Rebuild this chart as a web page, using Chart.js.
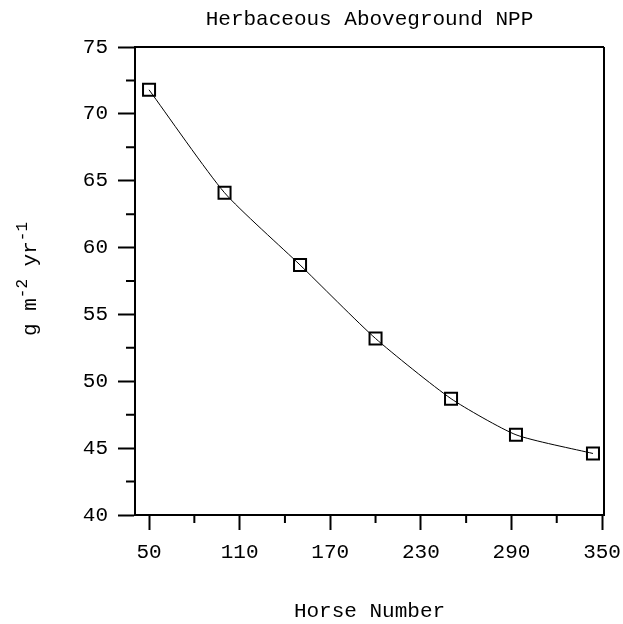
<!DOCTYPE html>
<html>
<head>
<meta charset="utf-8">
<script src="https://cdn.jsdelivr.net/npm/chart.js@4.4.0/dist/chart.umd.min.js"></script>
<style>
  body { margin: 0; background: #fff; }
  canvas { display: block; }
</style>
</head>
<body>
<canvas id="nppChart" width="623" height="624"></canvas>
<script>
// data
const horseNumber = [50, 100, 150, 200, 250, 293, 344];
const npp = [71.8, 64.1, 58.7, 53.2, 48.7, 46.0, 44.6];
const xTicks = [50, 110, 170, 230, 290, 350];
const xMinor = [80, 140, 200, 260, 320];
const yTicks = [40, 45, 50, 55, 60, 65, 70, 75];
const yMinor = [42.5, 47.5, 52.5, 57.5, 62.5, 67.5, 72.5];
const chartTitle = 'Herbaceous Aboveground NPP';

const FONT = 'Liberation Mono';

// frame, minor ticks, title over plot, y title with superscripts
const extras = {
    id: 'extras',
    afterDraw(chart) {
        const c = chart.ctx;
        const a = chart.chartArea;
        const xs = chart.scales.x, ys = chart.scales.y;
        c.save();
        c.strokeStyle = '#000';
        c.lineWidth = 2;
        c.beginPath();
        c.moveTo(a.left, a.top); c.lineTo(a.right, a.top);
        c.moveTo(a.right, a.top); c.lineTo(a.right, a.bottom);
        xMinor.forEach(v => {
            const px = xs.getPixelForValue(v);
            c.moveTo(px, a.bottom); c.lineTo(px, a.bottom + 8);
        });
        yMinor.forEach(v => {
            const py = ys.getPixelForValue(v);
            c.moveTo(a.left - 9, py); c.lineTo(a.left, py);
        });
        c.stroke();

        // title
        c.fillStyle = '#000';
        c.font = '21px "' + FONT + '"';
        c.textAlign = 'center';
        c.textBaseline = 'middle';
        c.fillText(chartTitle, (a.left + a.right) / 2, 19);

        // y axis title
        c.textAlign = 'left';
        c.textBaseline = 'alphabetic';
        const parts = [['g m', false], ['-2', true], [' yr', false], ['-1', true]];
        const mainF = '21px "' + FONT + '"', supF = '16px "' + FONT + '"';
        let total = 0;
        parts.forEach(p => { c.font = p[1] ? supF : mainF; total += c.measureText(p[0]).width; });
        c.translate(36, (a.top + a.bottom) / 2 - 2);
        c.rotate(-Math.PI / 2);
        let x = -total / 2;
        parts.forEach(p => {
            c.font = p[1] ? supF : mainF;
            c.fillText(p[0], x, p[1] ? -9 : 0);
            x += c.measureText(p[0]).width;
        });
        c.restore();
    }
};

const ctx = document.getElementById('nppChart').getContext('2d');
new Chart(ctx, {
    type: 'line',
    data: {
        datasets: [{
            data: horseNumber.map((h, i) => ({ x: h, y: npp[i] })),
            borderColor: '#000',
            borderWidth: 1,
            tension: 0.2,
            pointStyle: 'rect',
            pointRadius: 8.5,
            pointBorderWidth: 2,
            pointBorderColor: '#000',
            pointBackgroundColor: 'rgba(0,0,0,0)',
            fill: false
        }]
    },
    options: {
        responsive: false,
        animation: false,
        layout: { padding: { left: 0, right: 19, top: 47, bottom: 0 } },
        plugins: {
            legend: { display: false },
            tooltip: { enabled: false },
            title: { display: false }
        },
        scales: {
            x: {
                type: 'linear',
                min: 40.7,
                max: 351.3,
                afterBuildTicks: s => { s.ticks = xTicks.map(v => ({ value: v })); },
                afterFit: s => { s.height = 109; s.paddingLeft = 0; s.paddingRight = 0; },
                grid: { drawOnChartArea: false, drawTicks: true, tickLength: 15, tickColor: '#000', tickWidth: 2 },
                border: { display: true, color: '#000', width: 2 },
                ticks: { color: '#000', font: { family: FONT, size: 21 }, padding: 10, maxRotation: 0, autoSkip: false },
                title: {
                    display: true,
                    text: 'Horse Number',
                    color: '#000',
                    font: { family: FONT, size: 21 },
                    padding: { top: 0, bottom: 0 }
                }
            },
            y: {
                min: 40,
                max: 75,
                afterBuildTicks: s => { s.ticks = yTicks.map(v => ({ value: v })); },
                afterFit: s => { s.width = 135; s.paddingTop = 0; s.paddingBottom = 0; },
                grid: { drawOnChartArea: false, drawTicks: true, tickLength: 17, tickColor: '#000', tickWidth: 2 },
                border: { display: true, color: '#000', width: 2 },
                ticks: { color: '#000', font: { family: FONT, size: 21 }, padding: 10, autoSkip: false }
            }
        }
    },
    plugins: [extras]
});
</script>
</body>
</html>
